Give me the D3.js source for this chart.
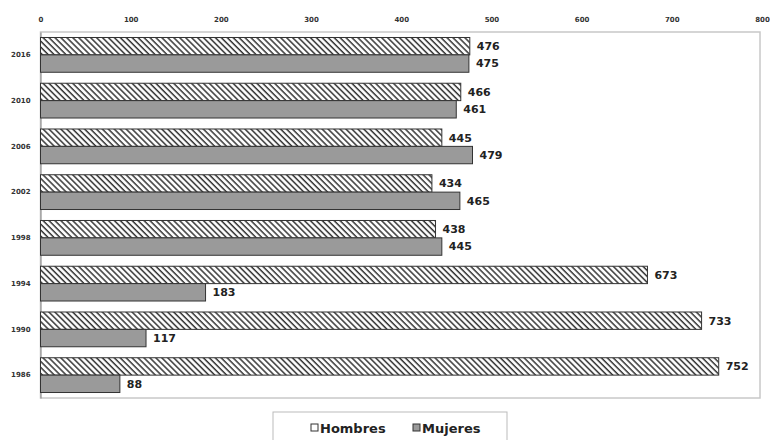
<!DOCTYPE html>
<html><head><meta charset="utf-8">
<script src="https://cdn.jsdelivr.net/npm/d3@7"></script>
<style>body{margin:0;background:#fff}svg{display:block}</style>
</head><body>
<svg id="c" width="770" height="440"></svg>
<script>
const years = ["2016","2010","2006","2002","1998","1994","1990","1986"];
const hombres = [476,466,445,434,438,673,733,752];
const mujeres = [475,461,479,465,445,183,117,88];
const seriesNames = ["Hombres","Mujeres"];
const xTicks = [0,100,200,300,400,500,600,700,800];

const svg = d3.select("#c");
const font = "DejaVu Sans, Verdana, sans-serif";
const m = {left:40.5, right:762, top:32, bottom:398};

const defs = svg.append("defs");
const pat = defs.append("pattern").attr("id","hatch").attr("patternUnits","userSpaceOnUse")
  .attr("width",4.2).attr("height",4.2).attr("patternTransform","rotate(-45)");
pat.append("rect").attr("width",4.2).attr("height",4.2).attr("fill","#fff");
pat.append("line").attr("x1",1).attr("y1",0).attr("x2",1).attr("y2",4.2)
  .attr("stroke","#333").attr("stroke-width",1.5);

const x = d3.scaleLinear().domain([0,800]).range([m.left,m.right]);
const y = d3.scaleBand().domain(years).range([m.top,m.bottom]).paddingInner(0.24).paddingOuter(0.12);
const ys = d3.scaleBand().domain(seriesNames).range([0,y.bandwidth()]);

// plot border
svg.append("rect").attr("x",m.left).attr("y",m.top).attr("width",760-m.left).attr("height",m.bottom-m.top)
  .attr("fill","none").attr("stroke","#c8c8c8").attr("stroke-width",1.5);

// top axis
const ax = svg.append("g").attr("transform",`translate(0,${m.top})`)
  .call(d3.axisTop(x).tickValues(xTicks).tickSize(0).tickPadding(10));
ax.select(".domain").remove();
ax.selectAll("text").attr("font-family",font).attr("font-size",7).attr("font-weight","bold").attr("fill","#333");

// left axis
const ay = svg.append("g").attr("transform",`translate(${m.left},0)`)
  .call(d3.axisLeft(y).tickSize(0).tickPadding(10));
ay.select(".domain").attr("stroke","#888");
ay.selectAll("text").attr("font-family",font).attr("font-size",7).attr("font-weight","bold").attr("fill","#333");

const data = years.map((yr,i)=>({yr, vals:[{s:"Hombres",v:hombres[i]},{s:"Mujeres",v:mujeres[i]}]}));
const g = svg.selectAll("g.grp").data(data).join("g").attr("class","grp")
  .attr("transform",d=>`translate(0,${y(d.yr)})`);
g.selectAll("rect").data(d=>d.vals).join("rect")
  .attr("x",x(0)).attr("y",d=>ys(d.s)).attr("width",d=>x(d.v)-x(0)).attr("height",ys.bandwidth())
  .attr("fill",d=>d.s==="Hombres"?"url(#hatch)":"#9a9a9a")
  .attr("stroke","#333").attr("stroke-width",1);
g.selectAll("text").data(d=>d.vals).join("text")
  .attr("x",d=>x(d.v)+7).attr("y",d=>ys(d.s)+ys.bandwidth()/2).attr("dy","0.35em")
  .attr("font-family",font).attr("font-size",11).attr("font-weight","bold").attr("fill","#222")
  .text(d=>d.v);

// legend
const lg = svg.append("g");
lg.append("rect").attr("x",273).attr("y",412).attr("width",234).attr("height",34)
  .attr("fill","#fff").attr("stroke","#bbb");
const items = [{s:"Hombres",fx:311,fill:"url(#hatch)"},{s:"Mujeres",fx:413,fill:"#9a9a9a"}];
items.forEach(it=>{
  lg.append("rect").attr("x",it.fx).attr("y",424).attr("width",7).attr("height",7)
    .attr("fill",it.fill==="url(#hatch)"?"#fff":it.fill).attr("stroke","#333");
  lg.append("text").attr("x",it.fx+9).attr("y",428).attr("dy","0.35em")
    .attr("font-family",font).attr("font-size",13).attr("font-weight","bold").attr("fill","#222").text(it.s);
});
</script>
</body></html>
